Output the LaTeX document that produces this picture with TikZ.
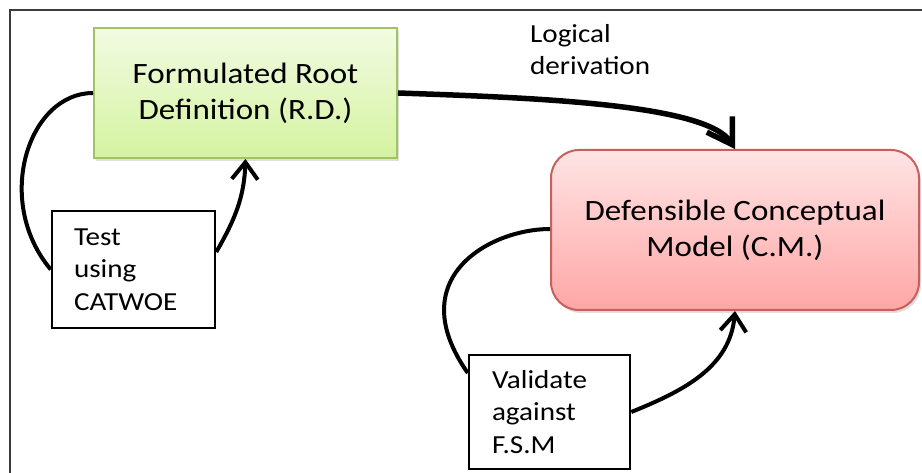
\documentclass[tikz,border=0pt]{standalone}
\usepackage{fontspec}
\setmainfont{Carlito}[FakeStretch=1.12]
\usetikzlibrary{arrows.meta,calc,shadows}
\definecolor{gtop}{RGB}{242,251,226}
\definecolor{gbot}{RGB}{212,243,160}
\definecolor{gborder}{RGB}{160,195,100}
\definecolor{rtop}{RGB}{255,228,228}
\definecolor{rbot}{RGB}{255,166,166}
\definecolor{rborder}{RGB}{200,95,92}
\definecolor{framecol}{RGB}{60,60,60}
\tikzset{
  bigtext/.style={font=\fontsize{29.5}{36}\selectfont},
  smalltext/.style={font=\fontsize{26}{32.5}\selectfont},
  rdbox/.style={rectangle, draw=gborder, line width=2pt, top color=gtop, bottom color=gbot,
    minimum width=303pt, minimum height=130pt, inner sep=0pt, align=center, bigtext,
    drop shadow={shadow xshift=2pt,shadow yshift=-3pt,opacity=0.25}},
  cmbox/.style={rectangle, rounded corners=28pt, draw=rborder, line width=2pt, top color=rtop, bottom color=rbot,
    minimum width=368pt, minimum height=160pt, inner sep=0pt, align=center, bigtext,
    drop shadow={shadow xshift=2pt,shadow yshift=-3pt,opacity=0.25}},
  notebox/.style={rectangle, draw=black, line width=2.5pt, fill=white, align=left, smalltext, inner ysep=0pt},
  lbl/.style={align=left, smalltext, inner sep=0pt},
  mainarrow/.style={line width=5.5pt, -{Straight Barb[length=24pt,width=30pt]}},
  loopline/.style={line width=4pt},
  looparrow/.style={line width=4pt, -{Straight Barb[length=17pt,width=26pt]}}
}
\begin{document}
\begin{tikzpicture}[x=1pt,y=1pt]
\useasboundingbox (0,0) rectangle (922,-473);
\fill[white] (0,0) rectangle (922,-473);
\draw[framecol, line width=1.5pt] (10,-473) -- (10,-10) -- (922,-10);

\node[rdbox] (rd) at (245.5,-93) {Formulated Root\\Definition (R.D.)};
\node[cmbox] (cm) at (735,-230) {Defensible Conceptual\\Model (C.M.)};
\node[notebox, text width=119pt, inner xsep=22pt, minimum height=117pt] (test) at (133.5,-269.5) {Test\\using\\CATWOE};
\node[notebox, text width=115pt, inner xsep=23pt, minimum height=114pt] (val) at (549.5,-412) {Validate\\against\\F.S.M};
\node[lbl, anchor=north west] (ld) at (530,-24) {Logical\\derivation};

\draw[mainarrow] (rd.east) to[out=-2,in=122,out looseness=1,in looseness=0.4] (cm.north);
\draw[loopline] (rd.west) to[out=180,in=130,out looseness=0.91,in looseness=1.26] (test.west);
\draw[looparrow] ($(test.east)+(0,17.5)$) to[out=60,in=-92] (rd.south);
\draw[loopline] ($(cm.west)+(0,1)$) to[out=180,in=125,out looseness=0.92,in looseness=1.8] ($(val.west)+(0,39)$);
\draw[looparrow] (val.east) to[out=22,in=-95] (cm.south);
\end{tikzpicture}
\end{document}
